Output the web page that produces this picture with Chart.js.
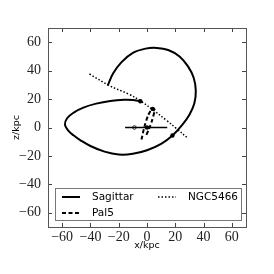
<!DOCTYPE html>
<html><head><meta charset="utf-8">
<script src="https://cdn.jsdelivr.net/npm/chart.js@4/dist/chart.umd.min.js"></script>
<style>html,body{margin:0;padding:0;background:#fff}#w{width:274px;height:274px}</style>
</head><body><div id="w"><canvas id="c"></canvas></div>
<script>
// ---- data ----
const seriesNames = ["Sagittar", "Pal5", "NGC5466"];
const sgrX = [-27.8, -24, -18, -10, -1, 7, 15, 23, 29, 33, 34.5, 33.5, 30, 25, 18, 10, 0, -10, -20, -30, -40, -47, -52, -55.8, -58, -56.5, -51.5, -45, -36, -26, -16, -10, -4.7];
const sgrZ = [29.5, 38, 46, 52.5, 55.5, 56, 54.5, 50, 43, 35, 26, 17, 9, 2, -5.6, -11.5, -16, -18.5, -19, -17, -13, -9, -5.5, -2, 2, 6.5, 10.7, 14, 16.8, 18.7, 19.5, 19.3, 18.5];
const pal5X = [-3.9, -1.7, 0.8, 3.3, 4.2, 5.4, 3.6, 1.4, -0.8];
const pal5Z = [-8.5, 1, 8.5, 13.1, 13.5, 12.4, 5, -1, -6];
const ngcX = [-40.7, -26.7, -13, -4.7, 4.7, 14, 21, 29.3];
const ngcZ = [37.7, 29.5, 23.5, 18.8, 12, 4.9, -0.9, -7.9];
const diskX = [-15.5, 14.3];
const diskZ = [0, 0];
const sunX = [-8.9];
const sunZ = [0];
const markX = [-4.7, 18, 4, 0];
const markZ = [18.5, -5.6, 13.1, 0];
const xTicks = [-60, -40, -20, 0, 20, 40, 60];
const zTicks = [-60, -40, -20, 0, 20, 40, 60];
const xLabel = "x/kpc";
const zLabel = "z/kpc";

const pts = (xs, zs) => xs.map((x, i) => ({x: x, y: zs[i]}));
const fmt = v => String(v).replace('-', '\u2212');

const tickFont = {family: "'Liberation Serif', serif", size: 14};
const titleFont = {family: "'DejaVu Sans', sans-serif", size: 9.5};

const framePlugin = {
  id: 'frame',
  afterDraw(chart) {
    const {ctx, chartArea: a, scales} = chart;
    ctx.save();
    ctx.strokeStyle = '#444';
    ctx.lineWidth = 1;
    const L = 4;
    xTicks.forEach(v => {
      const p = Math.round(scales.x.getPixelForValue(v)) + 0.5;
      ctx.beginPath();
      ctx.moveTo(p, a.bottom); ctx.lineTo(p, a.bottom - L);
      ctx.moveTo(p, a.top); ctx.lineTo(p, a.top + L);
      ctx.stroke();
    });
    zTicks.forEach(v => {
      const p = Math.round(scales.y.getPixelForValue(v)) + 0.5;
      ctx.beginPath();
      ctx.moveTo(a.left, p); ctx.lineTo(a.left + L, p);
      ctx.moveTo(a.right, p); ctx.lineTo(a.right - L, p);
      ctx.stroke();
    });
    ctx.strokeStyle = '#555';
    ctx.lineWidth = 1;
    ctx.strokeRect(Math.round(a.left) + 0.5, Math.round(a.top) + 0.5,
                   Math.round(a.right - a.left), Math.round(a.bottom - a.top));
    const bx = a.left + 7, by = a.bottom - 39, bw = a.right - a.left - 12, bh = 32;
    ctx.fillStyle = '#fff';
    ctx.fillRect(bx, by, bw, bh);
    ctx.strokeStyle = '#777';
    ctx.strokeRect(Math.round(bx) + 0.5, Math.round(by) + 0.5, Math.round(bw), Math.round(bh));
    const items = [
      {ds: chart.data.datasets[0], x: bx + 7, y: by + 9},
      {ds: chart.data.datasets[1], x: bx + 7, y: by + 25},
      {ds: chart.data.datasets[2], x: bx + 103, y: by + 9}
    ];
    ctx.font = "10.5px 'DejaVu Sans', sans-serif";
    ctx.textBaseline = 'middle';
    items.forEach(it => {
      ctx.strokeStyle = '#000';
      ctx.lineWidth = it.ds.borderWidth;
      ctx.setLineDash(it.ds.borderDash || []);
      ctx.beginPath();
      ctx.moveTo(it.x, it.y); ctx.lineTo(it.x + 18, it.y);
      ctx.stroke();
      ctx.setLineDash([]);
      ctx.fillStyle = '#000';
      ctx.fillText(it.ds.label, it.x + 30, it.y + 0.5);
    });
    ctx.restore();
  }
};

new Chart(document.getElementById('c'), {
  type: 'scatter',
  data: {
    datasets: [
      {label: seriesNames[0], data: pts(sgrX, sgrZ), showLine: true, borderColor: '#000', borderWidth: 2, pointRadius: 0, tension: 0.4, fill: false},
      {label: seriesNames[1], data: pts(pal5X, pal5Z), showLine: true, borderColor: '#000', borderWidth: 2, borderDash: [4, 2.5], pointRadius: 0, tension: 0.25, fill: false},
      {label: seriesNames[2], data: pts(ngcX, ngcZ), showLine: true, borderColor: '#000', borderWidth: 1.5, borderDash: [1.5, 2], pointRadius: 0, tension: 0.4, fill: false},
      {label: 'disk', data: pts(diskX, diskZ), showLine: true, borderColor: '#000', borderWidth: 1.5, pointRadius: 0},
      {label: 'sun', data: pts(sunX, sunZ), showLine: false, pointRadius: 1.8, pointBackgroundColor: '#fff', pointBorderColor: '#000', pointBorderWidth: 0.8},
      {label: 'marks', data: pts(markX, markZ), showLine: false, pointRadius: 2.2, pointBackgroundColor: '#000', pointBorderColor: '#000', pointBorderWidth: 0}
    ]
  },
  options: {
    responsive: true,
    maintainAspectRatio: false,
    animation: false,
    events: [],
    layout: {padding: {left: 0, top: 28, right: 28, bottom: 22}},
    plugins: {legend: {display: false}, tooltip: {enabled: false}},
    scales: {
      x: {
        type: 'linear', min: -70, max: 70,
        afterBuildTicks: s => { s.ticks = xTicks.map(v => ({value: v})); },
        afterFit: s => { s.height = 25; },
        grid: {display: false, drawTicks: false},
        border: {display: false},
        ticks: {font: tickFont, color: '#222', padding: 2, callback: v => fmt(v), maxRotation: 0, autoSkip: false},
        title: {display: true, text: xLabel, font: titleFont, color: '#000', padding: {top: 0, bottom: 1}}
      },
      y: {
        type: 'linear', min: -70, max: 70,
        afterBuildTicks: s => { s.ticks = zTicks.map(v => ({value: v})); },
        afterFit: s => { s.width = 48; },
        grid: {display: false, drawTicks: false},
        border: {display: false},
        ticks: {font: tickFont, color: '#222', padding: 7, callback: v => fmt(v), autoSkip: false},
        title: {display: true, text: zLabel, font: titleFont, color: '#000', padding: {top: 11, bottom: 0}}
      }
    }
  },
  plugins: [framePlugin]
});
</script>
</body></html>
